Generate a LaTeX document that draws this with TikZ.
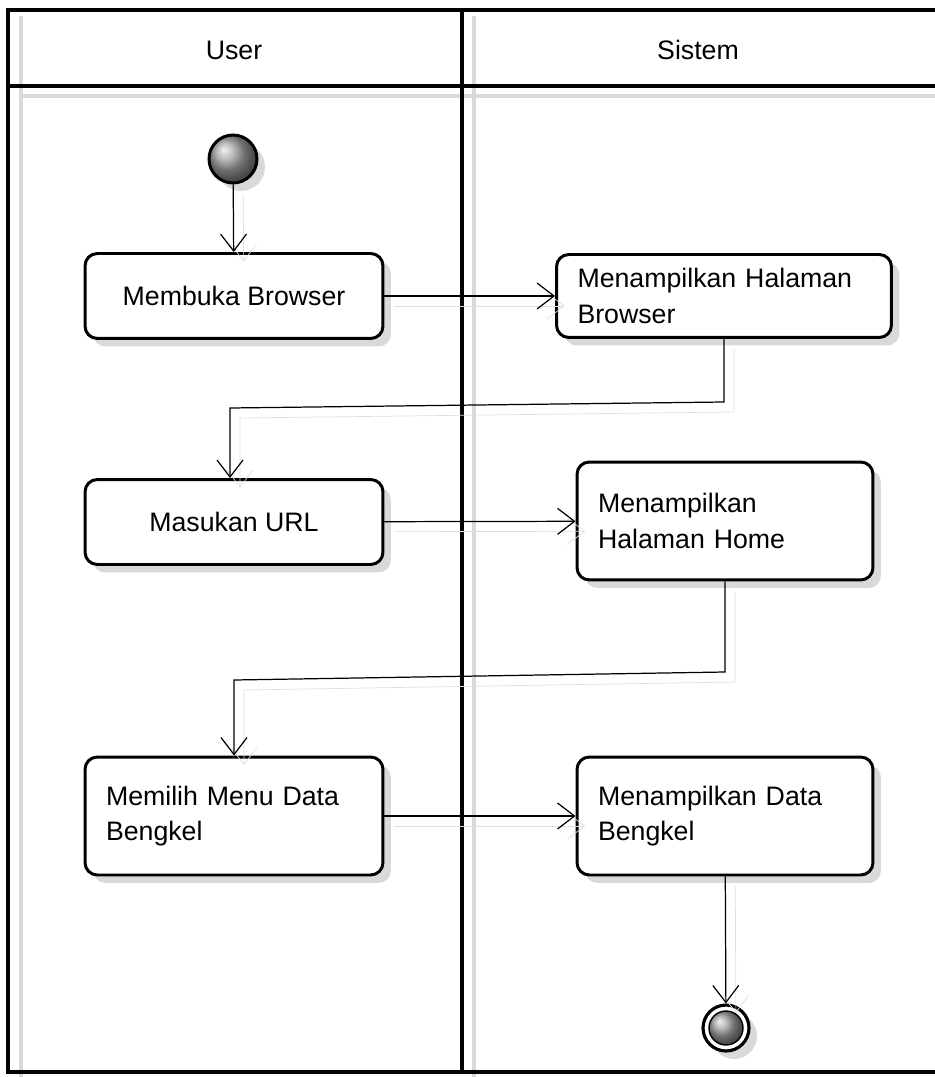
\documentclass[tikz,border=0pt]{standalone}
\usepackage{fontspec}
\setmainfont{Liberation Sans}
\usetikzlibrary{arrows.meta, shadows}

\begin{document}
\begin{tikzpicture}[x=0.02cm, y=-0.02cm,
        font=\fontsize{15.2}{20}\selectfont,
        shade/.style={drop shadow={shadow xshift=0.16cm, shadow yshift=-0.16cm,
                  fill=black!15, opacity=1}},
        act/.style={rectangle, draw=black, line width=1.7pt, rounded corners=7pt,
                  fill=white, minimum height=1.7cm, inner xsep=0.42cm, shade},
        actl/.style={act, align=left, text width=5.12cm},
        lane/.style={line width=1.8pt, black},
        laneshade/.style={line width=2.5pt, black!15},
        arr/.style={-{Straight Barb[length=0.34cm, width=0.52cm, line width=0.7pt]},
                  line width=0.7pt,
                  preaction={draw=black!13, transform canvas={shift={(0.2cm,-0.2cm)}}}}]
      \useasboundingbox (0,0) rectangle (935,1077);
      % lanes
      \draw[laneshade] (21,16) -- (21,1077);
      \draw[laneshade] (474,16) -- (474,1077);
      \draw[laneshade] (21,96) -- (935,96);
      \draw[lane] (8,10) rectangle (945,1072);
      \draw[lane] (8,86) -- (945,86);
      \draw[lane] (462,10) -- (462,1072);
      \node (user) at (234,50) {User};
      \node (sistem) at (698,50) {Sistem};
      % activities
      \node[circle, draw, line width=1.7pt, minimum size=0.96cm, ball color=gray!75, shade]
            (start) at (233,159) {};
      \node[act, minimum width=5.96cm] (buka) at (234,296) {Membuka Browser};
      \node[actl, text width=5.86cm, minimum height=1.66cm] (bro) at (724,296)
            {Menampilkan Halaman\\Browser};
      \node[act, minimum width=5.96cm] (url) at (234,522) {Masukan URL};
      \node[actl, text width=5.08cm, minimum height=2.36cm] (home) at (725,521)
            {Menampilkan\\Halaman Home};
      \node[actl, minimum height=2.36cm] (menu) at (234,816) {Memilih Menu Data\\Bengkel};
      \node[actl, text width=5.08cm, minimum height=2.36cm] (data) at (725,816)
            {Menampilkan Data\\Bengkel};
      \node[circle, draw, line width=1.8pt, minimum size=0.92cm, fill=white, shade]
            (end) at (726,1028) {};
      \draw[line width=0.8pt, ball color=gray!75] (end) circle (0.34cm);
      % flows
      \coordinate (k1) at (724,402);
      \coordinate (k2) at (230,408);
      \coordinate (k3) at (725,672);
      \coordinate (k4) at (234,680);
      \draw[arr] (start) -- (buka);
      \draw[arr] (buka) -- (bro);
      \draw[arr] (bro.south) -- (k1) -- (k2) -- (url.north -| k2);
      \draw[arr] (url) -- (home);
      \draw[arr] (home.south) -- (k3) -- (k4) -- (menu.north);
      \draw[arr] (menu) -- (data);
      \draw[arr] (data) -- (end);
\end{tikzpicture}
\end{document}
